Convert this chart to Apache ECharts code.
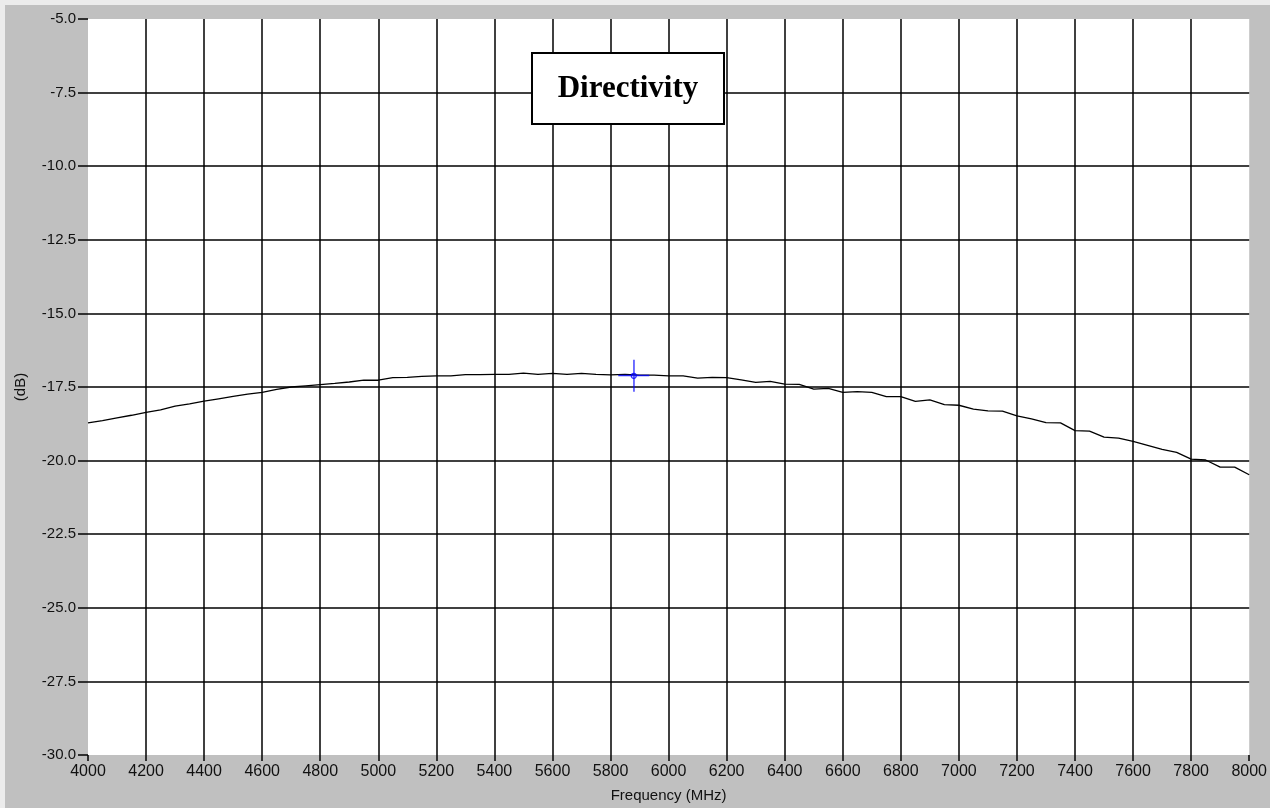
<!DOCTYPE html>
<html>
<head>
<meta charset="utf-8">
<script src="https://cdn.jsdelivr.net/npm/echarts@6/dist/echarts.min.js"></script>
<style>
html,body{margin:0;padding:0;background:#c0c0c0;}
#chart{width:1270px;height:808px;}
</style>
</head>
<body>
<div id="chart"></div>
<script>
const freqs = [4000,4050,4100,4150,4200,4250,4300,4350,4400,4450,4500,4550,4600,4650,4700,4750,4800,4850,4900,4950,
5000,5050,5100,5150,5200,5250,5300,5350,5400,5450,5500,5550,5600,5650,5700,5750,5800,5850,5900,5950,
6000,6050,6100,6150,6200,6250,6300,6350,6400,6450,6500,6550,6600,6650,6700,6750,6800,6850,6900,6950,
7000,7050,7100,7150,7200,7250,7300,7350,7400,7450,7500,7550,7600,7650,7700,7750,7800,7850,7900,7950,8000];
const directivity = [-18.72,-18.64,-18.55,-18.46,-18.36,-18.28,-18.15,-18.07,-17.98,-17.90,-17.82,-17.74,-17.68,-17.58,-17.50,-17.46,-17.42,-17.38,-17.33,-17.27,
-17.27,-17.18,-17.17,-17.14,-17.12,-17.12,-17.08,-17.08,-17.07,-17.07,-17.03,-17.07,-17.04,-17.07,-17.04,-17.07,-17.09,-17.07,-17.10,-17.10,
-17.12,-17.12,-17.20,-17.17,-17.18,-17.26,-17.34,-17.31,-17.40,-17.41,-17.57,-17.55,-17.68,-17.66,-17.68,-17.83,-17.83,-17.99,-17.94,-18.10,
-18.12,-18.25,-18.31,-18.32,-18.48,-18.58,-18.71,-18.72,-18.98,-19.00,-19.20,-19.24,-19.35,-19.48,-19.62,-19.72,-19.95,-19.98,-20.22,-20.22,-20.48];
const cursorPoint = [5880, -17.12];
const titleText = 'Directivity';
const xName = 'Frequency (MHz)';
const yName = '(dB)';

const data = freqs.map((f, i) => [f, directivity[i]]);
const chart = echarts.init(document.getElementById('chart'));
const fam = 'Liberation Sans, Arial, sans-serif';
chart.setOption({
  backgroundColor:'#c0c0c0',
  animation:false,
  grid:{left:88, top:19, right:20, bottom:53, show:true, backgroundColor:'#ffffff', borderWidth:0},
  xAxis:{
    type:'value', min:4000, max:8000, interval:200,
    name:xName, nameLocation:'middle', nameGap:33,
    nameTextStyle:{color:'#111', fontSize:15, fontFamily:fam},
    axisLine:{show:false},
    axisTick:{show:true, length:6, lineStyle:{color:'#000', width:1.5}},
    axisLabel:{margin:9, color:'#111', fontSize:16, fontFamily:fam, formatter:v => String(v)},
    splitLine:{show:true, showMinLine:false, showMaxLine:false, lineStyle:{color:'#000', width:1.5}}
  },
  yAxis:{
    type:'value', min:-30, max:-5, interval:2.5,
    name:yName, nameLocation:'middle', nameGap:60, nameRotate:90,
    nameTextStyle:{color:'#111', fontSize:15, fontFamily:fam},
    axisLine:{show:false},
    axisTick:{show:true, length:10, lineStyle:{color:'#000', width:1.5}},
    axisLabel:{margin:12, color:'#111', fontSize:15, fontFamily:fam, formatter:v => v.toFixed(1)},
    splitLine:{show:true, showMinLine:false, showMaxLine:false, lineStyle:{color:'#000', width:1.5}}
  },
  series:[
    {type:'line', data:data, showSymbol:false, symbol:'none', lineStyle:{color:'#000', width:1.3}, z:3},
    {type:'scatter', data:[cursorPoint], symbol:'path://M0,15h31v1.4h-31z M15,0h1.4v32h-1.4z', symbolSize:[31,32], itemStyle:{color:'#0000ff'}, z:4},
    {type:'scatter', data:[cursorPoint], symbol:'circle', symbolSize:5, itemStyle:{color:'rgba(0,0,0,0)', borderColor:'#0000ff', borderWidth:1.2}, z:5}
  ],
  graphic:[
    {type:'rect', left:0, top:0, shape:{width:1270, height:5}, style:{fill:'#ececec'}, silent:true},
    {type:'rect', left:0, top:0, shape:{width:5, height:808}, style:{fill:'#ececec'}, silent:true},
    {type:'rect', x:532, y:53, shape:{x:0, y:0, width:192, height:71}, style:{fill:'#fff', stroke:'#000', lineWidth:2}, z:10,
     textContent:{style:{text:titleText, font:'bold 31px "Liberation Serif", "Times New Roman", serif', fill:'#000'}, z:11},
     textConfig:{position:'inside'}}
  ]
});
</script>
</body>
</html>
